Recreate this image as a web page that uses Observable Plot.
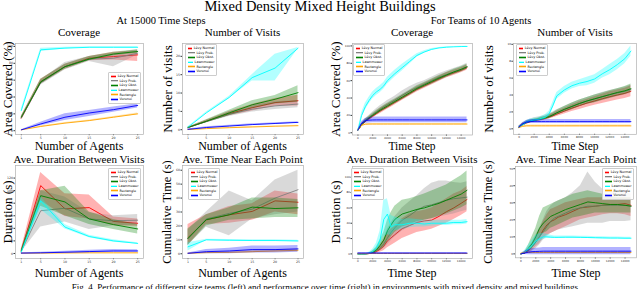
<!DOCTYPE html>
<html><head><meta charset="utf-8">
<script src="https://cdn.jsdelivr.net/npm/d3@7"></script>
<script src="https://cdn.jsdelivr.net/npm/@observablehq/plot@0.6"></script>
<style>
html,body{margin:0;padding:0;background:#fff;}
#fig{position:relative;width:640px;height:289px;overflow:hidden;font-family:"Liberation Serif",serif;color:#000;}
.t{position:absolute;white-space:nowrap;transform:translate(-50%,-50%);line-height:1;}
.yl{position:absolute;white-space:nowrap;transform:translate(-50%,-50%) rotate(-90deg);line-height:1;}
.pl{position:absolute;}
.lg{position:absolute;background:rgba(255,255,255,0.85);border:0.5px solid #ccc;border-radius:1px;font-family:"DejaVu Sans",sans-serif;font-size:3.3px;padding:1px 1.5px;box-sizing:border-box;}
.lg .r{display:flex;align-items:center;height:4.6px;white-space:nowrap;}
.sw{display:inline-block;width:7px;height:2.6px;margin-right:2px;position:relative;}
.sw i{position:absolute;left:0;right:0;top:0.9px;height:0.8px;}
</style>
</head><body>
<div id="fig"></div>
<script>
// ---------- data ----------
const seriesNames = ["Lévy Normal", "Lévy Prob.", "Lévy Obst.", "Lawnmower", "Rectangle", "Voronoi"];
const seriesColors = ["#ff0000", "#808080", "#008000", "#00ffff", "#ffa500", "#0000ff"];

const agents = [1, 5, 10, 15, 20, 25];
const timeSteps = [0, 500, 1000, 1500, 2000, 2500, 3000, 3500, 4000, 4500, 5000, 6000, 7000, 8000, 9000, 10000, 11000, 12000, 13000, 14000, 14800];

const agentTicks = [1, 5, 10, 15, 20, 25];
const timeTicks = [0, 2000, 4000, 6000, 8000, 10000, 12000, 14000];
const coverageTicks = [0, 20, 40, 60, 80, 100];
const visitsAgentTicks = [0, 5, 10, 15, 20];
const durationAgentTicks = [0, 20, 40, 60, 80, 100, 120];
const nearAgentTicks = [0, 10, 20, 30, 40, 50, 60];
const visitsTimeTicks = [0, 2, 4, 6, 8, 10];
const durationTimeTicks = [0, 20, 40, 60, 80, 100];
const nearTimeTicks = [0, 10, 20, 30, 40, 50];

// Coverage vs agents
const covAgentsMean = [
  [15, 58, 76, 86, 88, 90],
  [15, 57, 76, 85, 86, 92],
  [16, 58, 76, 85, 91, 94],
  [24, 96, 98, 99, 99, 99],
  [1, 5, 9, 12, 16, 20],
  [1, 8, 16, 21, 25, 30]];
const covAgentsLo = [
  [14, 55, 73, 83, 84, 82],
  [14, 54, 72, 82, 76, 90],
  [15, 55, 73, 83, 89, 92],
  [22, 94, 97, 98.5, 98.5, 98.5],
  [0.8, 4.5, 8.3, 11.3, 15.2, 19],
  [0.8, 6, 12, 17, 22, 27]];
const covAgentsHi = [
  [17, 61, 79, 88, 93, 95],
  [17, 60, 81, 88, 92, 96],
  [17, 61, 79, 88, 93, 96],
  [26, 98, 99, 99.5, 99.5, 99.5],
  [1.2, 5.5, 9.7, 12.7, 16.8, 21],
  [1.2, 10, 20, 24, 28, 32]];

// Number of visits vs agents
const visitsAgentsMean = [
  [0.6, 2.3, 4.4, 6.0, 7.4, 7.9],
  [0.6, 2.2, 4.2, 5.6, 6.5, 7.0],
  [0.6, 2.3, 4.6, 6.8, 8.3, 10.1],
  [0.7, 4.6, 8.8, 14.2, 16.8, 22.2],
  [0.05, 0.3, 0.55, 0.75, 0.95, 1.1],
  [0.1, 0.6, 1.0, 1.4, 1.7, 2.0]];
const visitsAgentsLo = [
  [0.5, 2.0, 3.8, 5.1, 6.4, 6.5],
  [0.5, 1.9, 3.6, 4.8, 5.5, 6.0],
  [0.5, 1.9, 3.8, 5.7, 7.0, 7.5],
  [0.6, 4.4, 8.5, 13.3, 13.3, 22.0],
  [0, 0.2, 0.45, 0.65, 0.85, 1.0],
  [0, 0.4, 0.8, 1.2, 1.5, 1.8]];
const visitsAgentsHi = [
  [0.7, 2.6, 5.0, 6.9, 8.5, 9.4],
  [0.7, 2.5, 4.8, 6.5, 7.6, 8.0],
  [0.7, 2.7, 5.3, 7.9, 9.3, 12.0],
  [0.8, 4.8, 9.1, 15.0, 20.6, 22.4],
  [0.1, 0.4, 0.65, 0.85, 1.05, 1.2],
  [0.2, 0.8, 1.2, 1.6, 1.9, 2.2]];

// Ave. duration between visits vs agents
const durAgentsMean = [
  [5, 108, 71, 73, 51, 48],
  [4, 68, 72, 55, 52, 53],
  [4, 92, 82, 55, 46, 39],
  [2, 84, 42, 27, 20, 16],
  [0.5, 0.5, 0.8, 1, 1, 1],
  [0.5, 1, 2, 3, 4, 4]];
const durAgentsLo = [
  [3, 84, 59, 55, 44, 43],
  [2, 42, 50, 38, 44, 45],
  [2, 75, 60, 46, 38, 31],
  [1, 70, 39, 25, 18, 15],
  [0.2, 0.2, 0.4, 0.6, 0.6, 0.6],
  [0, 0, 0.5, 1, 1.5, 2]];
const durAgentsHi = [
  [7, 129, 95, 93, 58, 55],
  [6, 100, 90, 65, 60, 62],
  [6, 100, 107, 66, 54, 46],
  [3, 90, 46, 29, 22, 17],
  [0.8, 0.8, 1.2, 1.4, 1.4, 1.4],
  [1, 2, 3.5, 5, 6.5, 6]];

// Ave. time near each point vs agents
const nearAgentsMean = [
  [11.6, 24.3, 28, 30.4, 38, 37],
  [11, 25, 29, 32, 40, 46],
  [11, 24.5, 28, 33.5, 32.5, 33],
  [5, 10, 9.7, 9.5, 9.5, 9.2],
  [0.3, 0.8, 1, 1.5, 2, 2.5],
  [0.3, 1.5, 2, 3, 3, 3.5]];
const nearAgentsLo = [
  [6, 21, 22, 24, 30, 28],
  [6, 19, 13, 25, 28, 30],
  [6, 20, 24, 25, 26, 26],
  [2, 9.5, 9.2, 9, 9, 8.7],
  [0, 0.3, 0.5, 0.8, 1.2, 1.5],
  [0, 0, 0, 0.5, 0.5, 1]];
const nearAgentsHi = [
  [21, 28, 34, 36, 45, 43],
  [17, 30, 45, 38, 53, 60],
  [18, 28, 33, 40, 40, 39],
  [8, 10.5, 10.2, 10, 10, 9.7],
  [0.6, 1.3, 1.5, 2.2, 2.8, 3.5],
  [0.6, 3, 4, 5.5, 5.5, 6]];

// Coverage vs time
const covTimeMean = [
  [3, 9, 13, 16, 19, 22, 25, 27.5, 30, 32.5, 35, 40, 45, 50, 54, 58, 62, 66, 69, 72, 75],
  [3, 9.5, 14, 17.5, 21, 24, 27, 30, 32.5, 35, 37.5, 43, 48, 52, 56, 60, 64, 67, 70, 73, 76],
  [3, 9, 13.5, 17, 20, 23, 26, 28.5, 31, 33.5, 36, 41, 46, 51, 55, 59, 63, 66.5, 70, 73, 76],
  [3, 20, 30, 37, 43, 47, 50, 54, 60, 64, 68, 75, 82, 89, 93, 96, 97.7, 98.5, 99, 99.3, 99.4],
  [3, 8.5, 9.8, 10, 10, 10, 10, 10, 10, 10, 10, 10, 10, 10, 10, 10, 10, 10, 10, 10, 10],
  [3, 11, 14, 14.5, 14.7, 14.8, 14.8, 14.8, 14.8, 14.8, 14.8, 14.8, 14.8, 14.8, 14.8, 14.8, 14.8, 14.8, 14.8, 14.8, 14.8]];
const covTimeLo = [
  [2.5, 8, 11.5, 14, 17, 19.5, 22, 24.5, 27, 29.5, 32, 37, 42, 47, 51, 55, 59, 63, 66, 69, 72],
  [2.5, 8, 12, 15, 18, 21, 23.5, 26, 28.5, 31, 33, 38, 43, 48, 52, 56, 60, 63.5, 67, 70, 73],
  [2.5, 8, 12, 15, 18, 20.5, 23, 25.5, 28, 30.5, 33, 38, 43, 48, 52, 56, 60, 63.5, 67, 70, 73],
  [2.5, 17, 26, 33, 39, 43, 46, 50, 56, 60, 64, 71, 79, 87, 91.5, 95, 97, 98, 98.7, 99, 99.1],
  [2.5, 7.8, 9.1, 9.3, 9.3, 9.3, 9.3, 9.3, 9.3, 9.3, 9.3, 9.3, 9.3, 9.3, 9.3, 9.3, 9.3, 9.3, 9.3, 9.3, 9.3],
  [2.5, 9, 11, 11.3, 11.4, 11.5, 11.5, 11.5, 11.5, 11.5, 11.5, 11.5, 11.5, 11.5, 11.5, 11.5, 11.5, 11.5, 11.5, 11.5, 11.5]];
const covTimeHi = [
  [3.5, 10, 14.5, 18, 21, 24.5, 28, 30.5, 33, 35.5, 38, 43, 48, 53, 57, 61, 65, 69, 72, 75, 78],
  [3.5, 11, 16, 20, 24, 27.5, 31, 34, 37, 39.5, 42, 48, 53, 57, 60, 64, 68, 71, 74, 77, 80],
  [3.5, 10.5, 15.5, 19, 22.5, 25.5, 28.5, 31.5, 34, 36.5, 39, 44, 49, 54, 58, 62, 66, 69.5, 73, 76, 79],
  [3.5, 23, 34, 41, 47, 51, 54, 58, 64, 68, 72, 79, 85, 91, 94.5, 97, 98.3, 99, 99.3, 99.5, 99.6],
  [3.5, 9.2, 10.5, 10.7, 10.7, 10.7, 10.7, 10.7, 10.7, 10.7, 10.7, 10.7, 10.7, 10.7, 10.7, 10.7, 10.7, 10.7, 10.7, 10.7, 10.7],
  [3.5, 13, 16.5, 17.5, 18, 18, 18, 18, 18, 18, 18, 18, 18, 18, 18, 18, 18, 18, 18, 18, 18]];

// Number of visits vs time
const visitsTimeMean = [
  [0.2, 0.5, 0.7, 0.85, 0.95, 1.05, 1.15, 1.25, 1.4, 1.55, 1.75, 2.1, 2.45, 2.75, 3.05, 3.3, 3.55, 3.8, 4.0, 4.2, 4.45],
  [0.2, 0.55, 0.8, 0.95, 1.05, 1.15, 1.25, 1.35, 1.5, 1.7, 1.9, 2.3, 2.65, 3.0, 3.3, 3.55, 3.8, 4.05, 4.25, 4.45, 4.65],
  [0.2, 0.5, 0.75, 0.9, 1.0, 1.1, 1.2, 1.3, 1.45, 1.65, 1.9, 2.3, 2.65, 3.0, 3.3, 3.55, 3.8, 4.05, 4.3, 4.5, 4.75],
  [0.2, 0.45, 0.8, 0.95, 1.05, 1.1, 1.25, 1.4, 1.8, 2.8, 3.9, 4.6, 5.1, 5.4, 5.6, 5.9, 6.5, 7.0, 7.6, 8.3, 9.2],
  [0.15, 0.3, 0.35, 0.35, 0.35, 0.35, 0.35, 0.35, 0.35, 0.35, 0.35, 0.35, 0.35, 0.35, 0.35, 0.35, 0.35, 0.35, 0.35, 0.35, 0.35],
  [0.2, 0.6, 0.8, 0.85, 0.85, 0.85, 0.85, 0.85, 0.85, 0.85, 0.85, 0.85, 0.85, 0.85, 0.85, 0.85, 0.85, 0.85, 0.85, 0.85, 0.85]];
const visitsTimeLo = [
  [0.1, 0.35, 0.55, 0.7, 0.8, 0.9, 0.95, 1.05, 1.15, 1.3, 1.45, 1.75, 2.05, 2.3, 2.55, 2.8, 3.0, 3.2, 3.4, 3.6, 3.8],
  [0.1, 0.4, 0.6, 0.75, 0.85, 0.95, 1.0, 1.1, 1.25, 1.4, 1.6, 1.95, 2.25, 2.6, 2.9, 3.1, 3.35, 3.6, 3.8, 4.0, 4.2],
  [0.1, 0.35, 0.6, 0.75, 0.85, 0.95, 1.0, 1.1, 1.2, 1.4, 1.6, 1.95, 2.25, 2.6, 2.9, 3.1, 3.35, 3.6, 3.85, 4.05, 4.3],
  [0.1, 0.3, 0.6, 0.75, 0.85, 0.9, 1.0, 1.15, 1.5, 2.4, 3.5, 4.2, 4.7, 5.0, 5.1, 5.4, 6.0, 6.4, 7.0, 7.7, 8.6],
  [0.1, 0.22, 0.26, 0.26, 0.26, 0.26, 0.26, 0.26, 0.26, 0.26, 0.26, 0.26, 0.26, 0.26, 0.26, 0.26, 0.26, 0.26, 0.26, 0.26, 0.26],
  [0.1, 0.45, 0.6, 0.65, 0.65, 0.65, 0.65, 0.65, 0.65, 0.65, 0.65, 0.65, 0.65, 0.65, 0.65, 0.65, 0.65, 0.65, 0.65, 0.65, 0.65]];
const visitsTimeHi = [
  [0.3, 0.65, 0.85, 1.0, 1.1, 1.2, 1.35, 1.45, 1.65, 1.8, 2.05, 2.45, 2.85, 3.2, 3.5, 3.8, 4.1, 4.4, 4.6, 4.8, 5.1],
  [0.3, 0.7, 1.0, 1.15, 1.3, 1.4, 1.5, 1.65, 1.8, 2.0, 2.25, 2.65, 3.05, 3.4, 3.7, 4.0, 4.3, 4.55, 4.75, 4.95, 5.2],
  [0.3, 0.65, 0.9, 1.05, 1.15, 1.25, 1.4, 1.5, 1.7, 1.9, 2.2, 2.65, 3.05, 3.4, 3.7, 4.0, 4.25, 4.5, 4.75, 5.0, 5.3],
  [0.3, 0.6, 1.0, 1.15, 1.25, 1.3, 1.5, 1.7, 2.1, 3.2, 4.3, 5.0, 5.5, 5.8, 6.1, 6.4, 7.0, 7.6, 8.2, 8.9, 9.8],
  [0.2, 0.38, 0.44, 0.44, 0.44, 0.44, 0.44, 0.44, 0.44, 0.44, 0.44, 0.44, 0.44, 0.44, 0.44, 0.44, 0.44, 0.44, 0.44, 0.44, 0.44],
  [0.3, 0.75, 1.0, 1.1, 1.1, 1.1, 1.1, 1.1, 1.1, 1.1, 1.1, 1.1, 1.1, 1.1, 1.1, 1.1, 1.1, 1.1, 1.1, 1.1, 1.1]];

// Ave. duration between visits vs time
const durTimeMean = [
  [0, 0, 0, 0.5, 1, 3, 6, 10, 17, 21, 25, 33, 37, 41, 43, 44, 49, 55, 60, 66, 71],
  [0, 0, 0, 0.5, 1.5, 4, 8, 13, 21, 28, 34, 44, 50, 57, 62, 64, 67, 70, 72, 73, 74],
  [0, 0, 0, 0.5, 2, 5, 11, 18, 30, 38, 45, 52, 55, 58, 60, 63, 66, 70, 74, 78, 83],
  [0, 0, 0, 1, 3, 8, 18, 45, 52, 35, 38, 38, 40, 40, 39, 40, 40, 40, 41, 41, 42],
  [0.5, 0.5, 0.5, 0.5, 0.5, 0.5, 0.5, 0.5, 0.5, 0.5, 0.5, 0.5, 0.5, 0.5, 0.5, 0.5, 0.5, 0.5, 0.5, 0.5, 0.5],
  [1, 1, 1, 1, 1, 1, 1, 1, 1, 1, 1, 1, 1, 1, 1, 1, 1, 1, 1, 1, 1]];
const durTimeLo = [
  [0, 0, 0, 0, 0, 1, 2, 4, 8, 11, 14, 20, 24, 28, 30, 32, 36, 40, 45, 50, 55],
  [0, 0, 0, 0, 0.5, 2, 4, 7, 12, 17, 22, 30, 35, 40, 44, 46, 48, 50, 52, 55, 57],
  [0, 0, 0, 0, 0.5, 2, 5, 9, 16, 22, 28, 35, 38, 42, 44, 46, 49, 52, 56, 60, 64],
  [0, 0, 0, 0, 1, 4, 10, 22, 25, 24, 30, 32, 34, 35, 35, 36, 37, 37, 38, 38, 39],
  [0.3, 0.3, 0.3, 0.3, 0.3, 0.3, 0.3, 0.3, 0.3, 0.3, 0.3, 0.3, 0.3, 0.3, 0.3, 0.3, 0.3, 0.3, 0.3, 0.3, 0.3],
  [0.2, 0.2, 0.2, 0.2, 0.2, 0.2, 0.2, 0.2, 0.2, 0.2, 0.2, 0.2, 0.2, 0.2, 0.2, 0.2, 0.2, 0.2, 0.2, 0.2, 0.2]];
const durTimeHi = [
  [0, 0, 0, 1, 3, 6, 11, 17, 28, 32, 36, 46, 52, 55, 57, 60, 66, 72, 78, 82, 88],
  [0, 0, 0, 1, 3, 7, 13, 20, 32, 40, 48, 60, 68, 76, 85, 92, 95, 95, 93, 92, 94],
  [0, 0, 0, 1, 4, 9, 18, 28, 44, 54, 62, 70, 72, 75, 78, 82, 86, 90, 96, 102, 108],
  [0, 0, 0, 2, 6, 14, 30, 70, 72, 50, 48, 45, 46, 45, 44, 44, 44, 44, 44, 44, 45],
  [0.7, 0.7, 0.7, 0.7, 0.7, 0.7, 0.7, 0.7, 0.7, 0.7, 0.7, 0.7, 0.7, 0.7, 0.7, 0.7, 0.7, 0.7, 0.7, 0.7, 0.7],
  [1.8, 1.8, 1.8, 1.8, 1.8, 1.8, 1.8, 1.8, 1.8, 1.8, 1.8, 1.8, 1.8, 1.8, 1.8, 1.8, 1.8, 1.8, 1.8, 1.8, 1.8]];

// Ave. time near each point vs time
const nearTimeMean = [
  [0, 0.5, 2, 4, 7, 10, 14, 17, 19, 20, 21.5, 23, 25, 27, 27.5, 28, 28.5, 29, 29, 29.5, 28.5],
  [0, 0.5, 2, 4, 7, 10, 13, 16, 19, 21, 22, 24, 26, 27, 28, 28, 28.5, 28.5, 28.5, 28.5, 28],
  [0, 0.5, 3, 6, 10, 15, 18, 20, 22, 23, 24, 26, 27.5, 29, 30.5, 30, 29.5, 29, 29, 28.5, 28],
  [0, 1, 3, 5, 7.5, 9, 10, 10, 9.8, 9.7, 9.7, 9.8, 9.8, 9.7, 9.6, 9.5, 9.4, 9.3, 9.3, 9.2, 9.2],
  [0.3, 0.8, 0.8, 0.8, 0.8, 0.8, 0.8, 0.8, 0.8, 0.8, 0.8, 0.8, 0.8, 0.8, 0.8, 0.8, 0.8, 0.8, 0.8, 0.8, 0.8],
  [0, 0.5, 1, 1.3, 1.4, 1.5, 1.6, 1.6, 1.6, 1.6, 1.6, 1.6, 1.6, 1.6, 1.6, 1.6, 1.6, 1.6, 1.6, 1.6, 1.6]];
const nearTimeLo = [
  [0, 0, 0.5, 2, 4, 6, 9, 11, 12, 13, 14, 16, 18, 20, 21, 22, 23, 23.5, 23.5, 23, 22],
  [0, 0, 0.5, 1.5, 3, 5, 8, 10, 12, 13, 14, 15, 16, 17, 18, 18, 18, 19, 19, 19, 19.5],
  [0, 0, 1, 3, 6, 9, 12, 13, 15, 16, 17, 19, 21, 22, 23, 24, 24, 24, 24, 24, 24],
  [0, 0.5, 1.5, 3, 5, 7, 8.5, 9, 9, 9, 9, 9.1, 9.1, 9, 9, 8.9, 8.8, 8.7, 8.7, 8.6, 8.6],
  [0, 0.3, 0.3, 0.3, 0.3, 0.3, 0.3, 0.3, 0.3, 0.3, 0.3, 0.3, 0.3, 0.3, 0.3, 0.3, 0.3, 0.3, 0.3, 0.3, 0.3],
  [0, -0.3, -0.5, -0.5, -0.5, -0.5, -0.5, -0.5, -0.5, -0.5, -0.5, -0.5, -0.5, -0.5, -0.5, -0.5, -0.5, -0.5, -0.5, -0.5, -0.5]];
const nearTimeHi = [
  [0, 1, 3.5, 6, 10, 14, 19, 23, 26, 27, 28, 30, 31, 32, 33, 33, 33, 33, 33, 33, 33],
  [0, 1, 3.5, 6.5, 11, 15, 20, 25, 28, 30, 31, 33, 36, 40, 48, 42, 38, 37, 36, 36, 35],
  [0, 1, 5, 10, 15, 22, 27, 28, 29, 30, 31, 33, 35, 36, 37, 36, 35, 34, 33, 33, 33],
  [0, 2, 5, 8, 11, 12, 12, 11.5, 11, 10.5, 10.5, 10.5, 10.5, 10.4, 10.3, 10.1, 10, 9.9, 9.9, 9.8, 9.8],
  [0.6, 1.3, 1.3, 1.3, 1.3, 1.3, 1.3, 1.3, 1.3, 1.3, 1.3, 1.3, 1.3, 1.3, 1.3, 1.3, 1.3, 1.3, 1.3, 1.3, 1.3],
  [0, 1.5, 2.5, 3, 3.3, 3.5, 3.7, 3.8, 3.8, 3.8, 3.8, 3.8, 3.8, 3.8, 3.8, 3.8, 3.8, 3.8, 3.8, 3.8, 3.8]];

// ---------- layout ----------
const fig = document.getElementById("fig");
function text(cls, str, x, y, size, extra) {
  const d = document.createElement("div");
  d.className = cls; d.textContent = str;
  d.style.left = x + "px"; d.style.top = y + "px"; d.style.fontSize = size + "px";
  if (extra) Object.assign(d.style, extra);
  fig.appendChild(d);
}

function panel(o) {
  const [x0, x1, y0, y1] = o.box;
  const mL = 14, mR = 4, mT = 3, mB = 8;
  const marks = [Plot.frame({stroke: "#b0b0b0", strokeWidth: 0.7})];
  seriesNames.forEach((name, i) => {
    const rows = o.xs.map((x, j) => ({x, m: o.mean[i][j], lo: o.lo[i][j], hi: o.hi[i][j]}));
    marks.push(Plot.areaY(rows, {x: "x", y1: "lo", y2: "hi", fill: seriesColors[i], fillOpacity: 0.3, clip: true}));
    marks.push(Plot.line(rows, {x: "x", y: "m", stroke: seriesColors[i], strokeWidth: 0.9, clip: true}));
  });
  const svg = Plot.plot({
    width: x1 - x0 + mL + mR, height: y1 - y0 + mT + mB,
    marginLeft: mL, marginRight: mR, marginTop: mT, marginBottom: mB,
    style: {background: "transparent", fontFamily: "DejaVu Sans, sans-serif", fontSize: (o.tickSize || 3.2) + "px", color: "#333", overflow: "visible"},
    x: {domain: o.xd, ticks: o.xt, tickFormat: d => String(d), label: null, tickSize: 1.2, tickPadding: 0.6},
    y: {domain: o.yd, ticks: o.yt, tickFormat: d => String(d), label: null, tickSize: 1.5, tickPadding: 1},
    marks
  });
  const wrap = document.createElement("div");
  wrap.className = "pl";
  wrap.style.left = (x0 - mL) + "px"; wrap.style.top = (y0 - mT) + "px";
  wrap.appendChild(svg);
  fig.appendChild(wrap);
  // legend
  const lg = document.createElement("div");
  lg.className = "lg";
  lg.style.left = o.leg[0] + "px"; lg.style.top = o.leg[1] + "px"; lg.style.width = o.leg[2] + "px";
  seriesNames.forEach((name, i) => {
    const r = document.createElement("div"); r.className = "r";
    const sw = document.createElement("span"); sw.className = "sw";
    sw.style.background = d3.color(seriesColors[i]).copy({opacity: 0.3}).formatRgb();
    const ln = document.createElement("i"); ln.style.background = seriesColors[i];
    sw.appendChild(ln); r.appendChild(sw);
    r.appendChild(document.createTextNode(name));
    lg.appendChild(r);
  });
  fig.appendChild(lg);
  // labels
  text("t", o.title, (x0 + x1) / 2, o.titleY, 11);
  text("t", o.xlabel, (x0 + x1) / 2, o.xlabelY, o.xlabelSize || 12);
  text("yl", o.ylabel, o.ylabelX, (y0 + y1) / 2, o.ylabelSize || 12.5);
}

const agentDomain = [-0.2, 26.2];
const timeDomain = [-740, 15540];

text("t", "Mixed Density Mixed Height Buildings", 320, 6, 14.5);
text("t", "At 15000 Time Steps", 161, 21, 10.5);
text("t", "For Teams of 10 Agents", 481, 21, 10.5);

panel({box: [15, 143, 43, 134], xs: agents, xd: agentDomain, xt: agentTicks, yd: [-4.5, 103.5], yt: coverageTicks,
  mean: covAgentsMean, lo: covAgentsLo, hi: covAgentsHi, leg: [108, 72, 33],
  title: "Coverage", titleY: 32, xlabel: "Number of Agents", xlabelY: 146, ylabel: "Area Covered (%)", ylabelX: 7, ylabelSize: 13});
panel({box: [182, 303, 43, 134], xs: agents, xd: agentDomain, xt: agentTicks, yd: [-1.3, 23.5], yt: visitsAgentTicks,
  mean: visitsAgentsMean, lo: visitsAgentsLo, hi: visitsAgentsHi, leg: [185, 44, 32],
  title: "Number of Visits", titleY: 32, xlabel: "Number of Agents", xlabelY: 146, ylabel: "Number of visits", ylabelX: 167, ylabelSize: 13});
panel({box: [15, 143, 165, 258], xs: agents, xd: agentDomain, xt: agentTicks, yd: [-8, 140], yt: durationAgentTicks,
  mean: durAgentsMean, lo: durAgentsLo, hi: durAgentsHi, leg: [108, 168, 33],
  title: "Ave. Duration Between Visits", titleY: 158.5, xlabel: "Number of Agents", xlabelY: 273, ylabel: "Duration (s)", ylabelX: 7, ylabelSize: 13});
panel({box: [182, 303, 165, 258], xs: agents, xd: agentDomain, xt: agentTicks, yd: [-3.4, 63.4], yt: nearAgentTicks,
  mean: nearAgentsMean, lo: nearAgentsLo, hi: nearAgentsHi, leg: [188, 168, 32],
  title: "Ave. Time Near Each Point", titleY: 158.5, xlabel: "Number of Agents", xlabelY: 273, ylabel: "Cumulative Time (s)", ylabelX: 167, ylabelSize: 12.5});
panel({box: [352, 472, 43, 134.5], xs: timeSteps, xd: timeDomain, xt: timeTicks, yd: [-2.6, 102.8], yt: coverageTicks, tickSize: 2.8,
  mean: covTimeMean, lo: covTimeLo, hi: covTimeHi, leg: [353, 44, 32],
  title: "Coverage", titleY: 32, xlabel: "Time Step", xlabelY: 147, xlabelSize: 11.5, ylabel: "Area Covered (%)", ylabelX: 335, ylabelSize: 13});
panel({box: [513, 637, 43, 134.5], xs: timeSteps, xd: timeDomain, xt: timeTicks, yd: [-0.65, 10.1], yt: visitsTimeTicks, tickSize: 2.8,
  mean: visitsTimeMean, lo: visitsTimeLo, hi: visitsTimeHi, leg: [516, 44, 32],
  title: "Number of Visits", titleY: 32, xlabel: "Time Step", xlabelY: 147, xlabelSize: 11.5, ylabel: "Number of visits", ylabelX: 488, ylabelSize: 13});
panel({box: [352, 472, 166, 258], xs: timeSteps, xd: timeDomain, xt: timeTicks, yd: [-6, 114], yt: durationTimeTicks, tickSize: 2.8,
  mean: durTimeMean, lo: durTimeLo, hi: durTimeHi, leg: [351, 168, 33],
  title: "Ave. Duration Between Visits", titleY: 158.5, xlabel: "Time Step", xlabelY: 273, ylabel: "Duration (s)", ylabelX: 335, ylabelSize: 13});
panel({box: [515, 637, 166, 258], xs: timeSteps, xd: timeDomain, xt: timeTicks, yd: [-2.3, 51.3], yt: nearTimeTicks, tickSize: 2.8,
  mean: nearTimeMean, lo: nearTimeLo, hi: nearTimeHi, leg: [602, 168, 32],
  title: "Ave. Time Near Each Point", titleY: 158.5, xlabel: "Time Step", xlabelY: 273, ylabel: "Cumulative Time (s)", ylabelX: 488, ylabelSize: 12.5});

text("t", "Fig. 4.   Performance of different size teams (left) and performance over time (right) in environments with mixed density and mixed buildings.", 326, 287, 9);
</script>
</body></html>
